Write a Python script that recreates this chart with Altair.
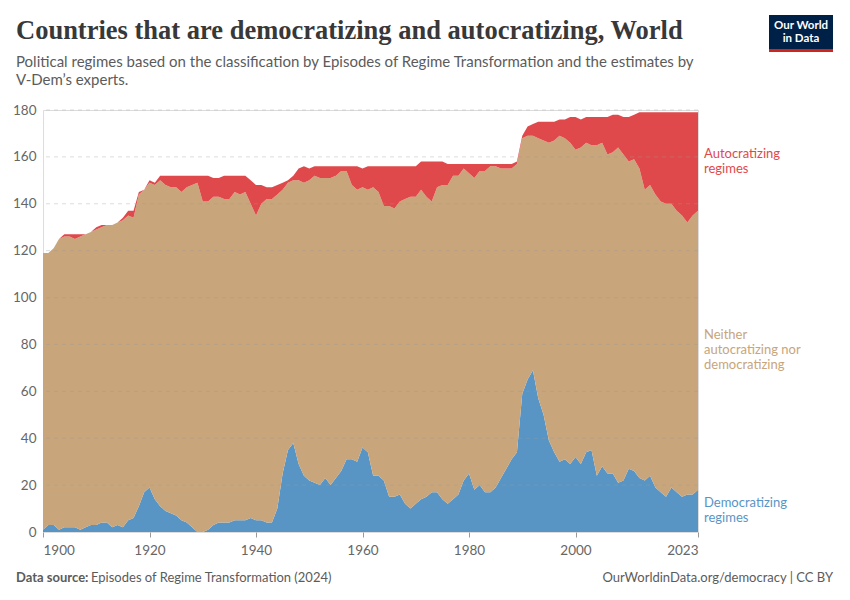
import altair as alt
import pandas as pd

years = list(range(1900, 2024))

democratizing = [
    1, 3, 3, 1, 2, 2, 2, 1, 2, 3,
    3, 4, 4, 2, 3, 2, 5, 6, 11, 17,
    19, 14, 11, 9, 8, 7, 5, 4, 2, 0,
    0, 1, 3, 4, 4, 4, 5, 5, 5, 6,
    5, 5, 4, 4, 10, 25, 35, 38, 29, 24,
    22, 21, 20, 23, 20, 23, 26, 31, 31, 30,
    36, 34, 24, 24, 22, 15, 15, 16, 12, 10,
    12, 14, 15, 17, 17, 14, 12, 14, 16, 22,
    25, 18, 20, 17, 17, 19, 23, 27, 31, 34,
    59, 65, 69, 57, 50, 39, 34, 30, 31, 29,
    32, 29, 34, 35, 24, 28, 25, 25, 21, 22,
    27, 26, 23, 22, 24, 19, 17, 15, 19, 17,
    15, 16, 16, 18,
]

neither = [
    118, 116, 118, 124, 124, 124, 123, 125, 125, 125,
    126, 126, 127, 129, 129, 131, 130, 128, 133, 129,
    130, 134, 139, 139, 139, 140, 140, 143, 146, 149,
    141, 140, 140, 139, 138, 138, 140, 139, 140, 134,
    130, 135, 138, 138, 134, 121, 114, 112, 121, 125,
    128, 131, 131, 128, 131, 129, 128, 123, 117, 116,
    111, 112, 123, 121, 117, 124, 123, 125, 130, 133,
    131, 132, 128, 124, 130, 134, 136, 138, 136, 133,
    128, 133, 134, 137, 139, 137, 132, 128, 124, 123,
    109, 104, 100, 111, 117, 127, 133, 139, 137, 137,
    131, 135, 132, 130, 141, 138, 136, 137, 143, 139,
    131, 133, 132, 124, 124, 125, 124, 125, 121, 120,
    120, 116, 119, 119,
]

autocratizing = [
    0, 0, 0, 0, 1, 1, 2, 1, 0, 0,
    1, 1, 0, 0, 0, 1, 2, 3, 1, 0,
    1, 1, 2, 4, 5, 5, 7, 5, 4, 3,
    11, 11, 8, 8, 10, 10, 7, 8, 7, 10,
    13, 8, 5, 5, 4, 3, 1, 2, 5, 7,
    5, 4, 5, 5, 5, 4, 2, 2, 8, 10,
    8, 10, 9, 11, 17, 17, 18, 15, 14, 13,
    13, 12, 15, 17, 11, 10, 9, 5, 5, 2,
    4, 6, 3, 3, 1, 1, 2, 2, 2, 1,
    1, 4, 5, 7, 8, 9, 8, 7, 8, 11,
    14, 12, 11, 12, 12, 11, 16, 16, 14, 16,
    19, 19, 24, 33, 31, 35, 38, 39, 39, 42,
    44, 47, 44, 42,
]

series_names = ["Democratizing regimes", "Neither autocratizing nor democratizing", "Autocratizing regimes"]
series_labels = ["Democratizing\nregimes", "Neither\nautocratizing nor\ndemocratizing", "Autocratizing\nregimes"]
series_colors = ["#5895c5", "#c8a57a", "#e0494c"]
label_colors = ["#2c6ea8", "#a97f4f", "#d7252d"]
x_ticks = [1900, 1920, 1940, 1960, 1980, 2000, 2023]
y_ticks = [0, 20, 40, 60, 80, 100, 120, 140, 160, 180]

rows = []
for i, y in enumerate(years):
    for k, (name, vals) in enumerate(zip(series_names, [democratizing, neither, autocratizing])):
        rows.append({"year": y, "series": name, "value": vals[i], "ord": k})
df = pd.DataFrame(rows)

# right-hand labels placed at the middle of each band in the last year
last = len(years) - 1
d, n, a = democratizing[last], neither[last], autocratizing[last]
mids = [d / 2, d + n / 2, d + n + a / 2]
lab_df = pd.DataFrame({
    "year": [years[last]] * 3,
    "mid": mids,
    "label": series_labels,
    "series": series_names,
    "nlines": [s.count("\n") + 1 for s in series_labels],
})
grid_df = pd.DataFrame({"v": [t for t in y_ticks if t > 0]})

W, H = 655, 422
LH = 15

xscale = alt.Scale(domain=[1900, 2023], nice=False, zero=False)
yscale = alt.Scale(domain=[0, 180], nice=False)
cscale = alt.Scale(domain=series_names, range=series_colors)

areas = alt.Chart(df).mark_area(interpolate="linear", opacity=1).encode(
    x=alt.X("year:Q", scale=xscale, title=None,
            axis=alt.Axis(values=x_ticks, format="d", labelFlush=True, grid=False,
                          domain=False, ticks=True, tickColor="#9a9a9a",
                          tickSize=5, labelFontSize=13.5, labelColor="#666666", labelFont="Lato",
                          labelPadding=6)),
    y=alt.Y("value:Q", stack="zero", scale=yscale, title=None,
            axis=alt.Axis(values=y_ticks, grid=False,
                          domain=False, ticks=False, labelFontSize=13.5, labelColor="#666666",
                          labelFont="Lato", labelPadding=7)),
    color=alt.Color("series:N", scale=cscale, legend=None),
    order=alt.Order("ord:Q", sort="ascending"),
)

grid = alt.Chart(grid_df).mark_rule(strokeDash=[4, 4], color="#9a9a9a", opacity=0.35, strokeWidth=1).encode(
    y=alt.Y("v:Q", scale=yscale),
)

lab_color = alt.Color("series:N", scale=alt.Scale(domain=series_names, range=label_colors), legend=None)

labels2 = alt.Chart(lab_df).transform_filter("datum.nlines == 2").mark_text(
    align="left", baseline="middle", dx=6, dy=-LH / 2, fontSize=13,
    font="Lato", lineBreak="\n", lineHeight=LH).encode(
    x=alt.X("year:Q", scale=xscale),
    y=alt.Y("mid:Q", scale=yscale),
    text="label:N",
    color=lab_color,
)
labels3 = alt.Chart(lab_df).transform_filter("datum.nlines == 3").mark_text(
    align="left", baseline="middle", dx=6, dy=-LH, fontSize=13,
    font="Lato", lineBreak="\n", lineHeight=LH).encode(
    x=alt.X("year:Q", scale=xscale),
    y=alt.Y("mid:Q", scale=yscale),
    text="label:N",
    color=lab_color,
)

one = pd.DataFrame({"k": [0]})

title = alt.Chart(one).mark_text(align="left", baseline="alphabetic", font="Liberation Serif",
                                 fontSize=26.5, fontWeight="bold", color="#383838").encode(
    x=alt.value(-27), y=alt.value(-71),
    text=alt.value("Countries that are democratizing and autocratizing, World"))

sub1 = alt.Chart(one).mark_text(align="left", baseline="alphabetic", font="Lato",
                                fontSize=15, color="#5b5b5b").encode(
    x=alt.value(-27), y=alt.value(-43),
    text=alt.value("Political regimes based on the classification by Episodes of Regime Transformation and the estimates by"))
sub2 = alt.Chart(one).mark_text(align="left", baseline="alphabetic", font="Lato",
                                fontSize=15, color="#5b5b5b").encode(
    x=alt.value(-27), y=alt.value(-25),
    text=alt.value("V-Dem\u2019s experts."))

src_b = alt.Chart(one).mark_text(align="left", baseline="alphabetic", font="Lato", fontWeight="bold",
                                 fontSize=13, color="#5b5b5b").encode(
    x=alt.value(-27), y=alt.value(472), text=alt.value("Data source:"))
src = alt.Chart(one).mark_text(align="left", baseline="alphabetic", font="Lato",
                               fontSize=13, color="#5b5b5b").encode(
    x=alt.value(48), y=alt.value(472), text=alt.value("Episodes of Regime Transformation (2024)"))
lic = alt.Chart(one).mark_text(align="right", baseline="alphabetic", font="Lato",
                               fontSize=13, color="#5b5b5b").encode(
    x=alt.value(790), y=alt.value(472), text=alt.value("OurWorldinData.org/democracy | CC BY"))

logo_box = alt.Chart(one).mark_rect(color="#002147").encode(
    x=alt.value(726), x2=alt.value(790), y=alt.value(-95), y2=alt.value(-61))
logo_bar = alt.Chart(one).mark_rect(color="#ce261e").encode(
    x=alt.value(726), x2=alt.value(790), y=alt.value(-61), y2=alt.value(-58))
logo_t1 = alt.Chart(one).mark_text(align="center", baseline="middle", font="Lato", fontWeight="bold",
                                   fontSize=11.5, color="white").encode(
    x=alt.value(758), y=alt.value(-84), text=alt.value("Our World"))
logo_t2 = alt.Chart(one).mark_text(align="center", baseline="middle", font="Lato", fontWeight="bold",
                                   fontSize=11.5, color="white").encode(
    x=alt.value(758), y=alt.value(-71), text=alt.value("in Data"))

chart = alt.layer(
    areas, grid, labels2, labels3, title, sub1, sub2, src_b, src, lic,
    logo_box, logo_bar, logo_t1, logo_t2
).properties(
    width=W, height=H,
    autosize=alt.AutoSizeParams(type="none"),
    padding={"left": 35, "top": 102, "right": 144, "bottom": 60},
).configure_view(stroke=None).configure(background="white")

chart.save("out.html", embed_options={"renderer": "svg", "actions": False})
